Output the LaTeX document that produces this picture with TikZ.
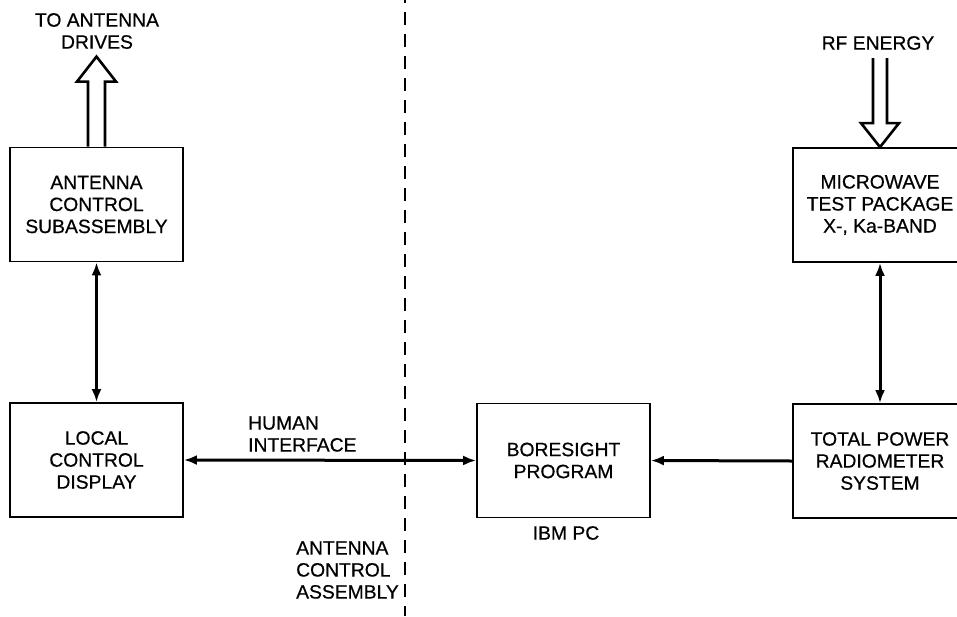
\documentclass[tikz,border=0pt]{standalone}
\usepackage{fontspec}
\setmainfont{Liberation Sans}
\newfontfamily\diagfont{Liberation Sans}[FakeBold=0.5]
\usetikzlibrary{arrows.meta,calc}
\begin{document}
\begin{tikzpicture}[x=1pt,y=-1pt,
  box/.style={draw,line width=1.8pt,minimum width=173pt,minimum height=114pt,align=center,inner sep=0pt,
    font=\diagfont\fontsize{19.3}{22}\selectfont},
  lbl/.style={font=\diagfont\fontsize{19.3}{22}\selectfont,inner sep=0pt},
  conn/.style={line width=3pt,-{Latex[length=13pt,width=10pt]}},
  biconn/.style={line width=3pt,{Latex[length=13pt,width=10pt]}-{Latex[length=13pt,width=10pt]}},
  hollow/.style={draw,line width=2.6pt,line join=miter,fill=white},
  sep/.style={line width=2.4pt,dash pattern=on 13pt off 9pt,dash phase=10pt}]
\clip (0,0) rectangle (957,616);
\fill[white] (0,0) rectangle (957,616);
% boxes
\node[box] (acs) at (96.5,204.5) {ANTENNA\\CONTROL\\SUBASSEMBLY};
\node[box] (lcd) at (96.5,460) {LOCAL\\CONTROL\\DISPLAY};
\node[box] (bp) at (563.5,460.5) {BORESIGHT\\PROGRAM};
\node[box,minimum width=174pt] (mtp) at (880,205) {MICROWAVE\\TEST PACKAGE\\X-, Ka-BAND};
\node[box,minimum width=174pt] (tpr) at (880,461) {TOTAL POWER\\RADIOMETER\\SYSTEM};
% labels
\node[lbl,align=center] (drv) at (97,31) {TO ANTENNA\\DRIVES};
\node[lbl] (rf) at (878,43) {RF ENERGY};
\node[lbl,align=left,anchor=west] (hi) at (248,434) {HUMAN\\INTERFACE};
\node[lbl,align=left,anchor=west] (aca) at (296,570) {ANTENNA\\CONTROL\\ASSEMBLY};
\node[lbl] (ibm) at (566,533) {IBM PC};
% dashed separator
\coordinate (septop) at (405,0);
\coordinate (sepbot) at (405,616);
\draw[sep] (septop) -- (sepbot);
% hollow arrows
\draw[hollow] ($(acs.north)+(-8.5,0)$) -- ++(0,-65) -- ++(-11,0) -- ($(acs.north)+(0,-90)$)
  -- ($(acs.north)+(19.5,-65)$) -- ++(-11,0) -- ($(acs.north)+(8.5,0)$);
\draw[hollow] ($(mtp.north)+(-7,-89)$) -- ++(0,65) -- ++(-12,0) -- (mtp.north)
  -- ($(mtp.north)+(19,-24)$) -- ++(-12,0) -- ++(0,-65);
% connectors
\draw[biconn] (acs.south) -- (lcd.north);
\draw[biconn] (mtp.south) -- (tpr.north);
\draw[biconn] (lcd.east) -- (bp.west);
\draw[conn] (tpr.west) -- (bp.east);
\end{tikzpicture}
\end{document}
